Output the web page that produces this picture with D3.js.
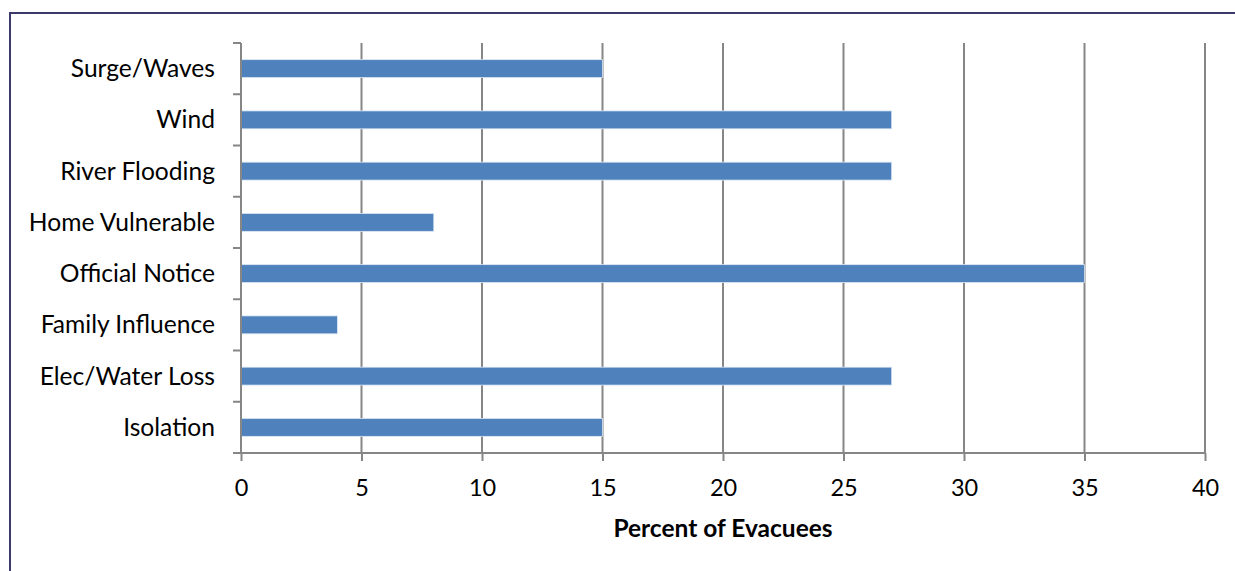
<!DOCTYPE html>
<html>
<head>
<meta charset="utf-8">
<script src="https://cdn.jsdelivr.net/npm/d3@7"></script>
<style>
  html, body { margin: 0; padding: 0; background: #fff; }
  svg { display: block; }
  text { font-family: Lato, "Open Sans", sans-serif; fill: #000; }
</style>
</head>
<body>
<svg id="chart" width="1235" height="571"></svg>
<script>
// Reasons for evacuating, top to bottom
const categories = ["Surge/Waves", "Wind", "River Flooding", "Home Vulnerable",
                    "Official Notice", "Family Influence", "Elec/Water Loss", "Isolation"];
const percents = [15, 27, 27, 8, 35, 4, 27, 15];
const xTicks = [0, 5, 10, 15, 20, 25, 30, 35, 40];
const xTitle = "Percent of Evacuees";

const W = 1235, H = 571;
const plot = { left: 241, right: 1205, top: 43, bottom: 453 };

const svg = d3.select("#chart");

// outer frame
svg.append("rect")
  .attr("x", 10).attr("y", 13)
  .attr("width", W).attr("height", H)
  .attr("fill", "none").attr("stroke", "#3b3a6b").attr("stroke-width", 2);

const x = d3.scaleLinear().domain([0, 40]).range([plot.left, plot.right]);
const y = d3.scaleBand().domain(categories).range([plot.top, plot.bottom]).paddingInner(0.65).paddingOuter(0.325);
const yBand = d3.scaleBand().domain(categories).range([plot.top, plot.bottom]);

const grid = "#868686";

// vertical gridlines
svg.append("g").selectAll("line").data(xTicks.slice(1)).join("line")
  .attr("x1", d => x(d)).attr("x2", d => x(d))
  .attr("y1", plot.top).attr("y2", plot.bottom)
  .attr("stroke", grid).attr("stroke-width", 2);

// bars
svg.append("g").selectAll("rect").data(categories).join("rect")
  .attr("x", x(0))
  .attr("y", d => y(d))
  .attr("width", (d, i) => x(percents[i]) - x(0))
  .attr("height", y.bandwidth())
  .attr("fill", "#4f81bd")
  .attr("stroke", "#dfe8f3").attr("stroke-width", 0.8);

// x axis
const xAxis = svg.append("g")
  .attr("transform", `translate(0,${plot.bottom})`)
  .call(d3.axisBottom(x).tickValues(xTicks).tickSize(8).tickPadding(18).tickSizeOuter(0));
xAxis.select(".domain").attr("stroke", grid).attr("stroke-width", 2)
  .attr("d", `M${plot.left - 8},0H${plot.right}`);
xAxis.selectAll(".tick line").attr("stroke", grid).attr("stroke-width", 2);
xAxis.selectAll(".tick text").attr("font-size", 23.5).attr("font-family", "Lato, sans-serif").attr("fill", "#000");

// y axis with boundary ticks between categories
const yAxisG = svg.append("g");
yAxisG.append("line")
  .attr("x1", plot.left).attr("x2", plot.left)
  .attr("y1", plot.top).attr("y2", plot.bottom)
  .attr("stroke", grid).attr("stroke-width", 2);
const bounds = categories.map(c => yBand(c)).concat([plot.bottom]);
yAxisG.selectAll("line.b").data(bounds).join("line").attr("class", "b")
  .attr("x1", plot.left - 8).attr("x2", plot.left)
  .attr("y1", d => d).attr("y2", d => d)
  .attr("stroke", grid).attr("stroke-width", 2);
yAxisG.selectAll("text").data(categories).join("text")
  .attr("x", 215)
  .attr("y", d => yBand(d) + yBand.bandwidth() / 2)
  .attr("dy", "0.35em")
  .attr("text-anchor", "end")
  .attr("font-size", 24.6)
  .text(d => d);

// x title
svg.append("text")
  .attr("x", (plot.left + plot.right) / 2)
  .attr("y", 537)
  .attr("text-anchor", "middle")
  .attr("font-size", 24.5)
  .attr("font-weight", "bold")
  .text(xTitle);
</script>
</body>
</html>
